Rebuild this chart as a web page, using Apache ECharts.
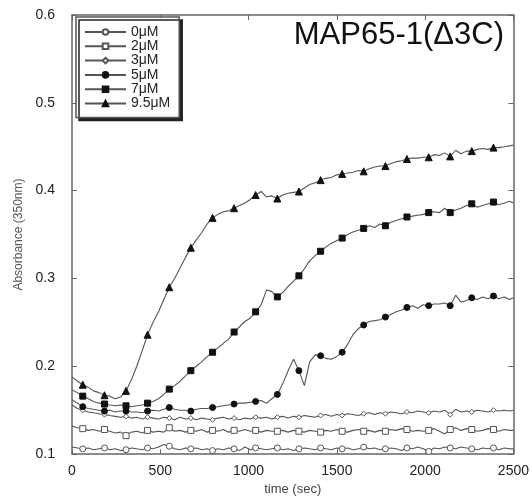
<!DOCTYPE html>
<html>
<head>
<meta charset="utf-8">
<script src="https://cdn.jsdelivr.net/npm/echarts@6/dist/echarts.min.js"></script>
<style>
  html, body { margin: 0; padding: 0; background: #fff; }
  #chart { width: 532px; height: 501px; }
</style>
</head>
<body>
<div id="chart"></div>
<script>
// Sampling times (sec)
const times = [0, 31, 61, 92, 122, 153, 184, 214, 245, 275, 306, 337, 367, 398, 428, 459, 490, 520, 551, 581,
  612, 643, 673, 704, 734, 765, 796, 826, 857, 887, 918, 949, 979, 1010, 1040, 1071, 1102, 1132, 1163, 1193,
  1224, 1255, 1285, 1316, 1346, 1377, 1408, 1438, 1469, 1499, 1530, 1561, 1591, 1622, 1652, 1683, 1714, 1744, 1775, 1805,
  1836, 1867, 1897, 1928, 1958, 1989, 2020, 2050, 2081, 2111, 2142, 2173, 2203, 2234, 2264, 2295, 2326, 2356, 2387, 2417,
  2448, 2478, 2500];

// Absorbance at 350 nm for each MAP65-1(Δ3C) concentration
const abs0 = [0.108, 0.107, 0.106, 0.107, 0.105, 0.106, 0.107, 0.105, 0.106, 0.104, 0.105, 0.107, 0.106, 0.105, 0.107, 0.106, 0.108, 0.111, 0.109, 0.106,
  0.105, 0.107, 0.106, 0.107, 0.105, 0.106, 0.104, 0.106, 0.105, 0.107, 0.106, 0.104, 0.108, 0.105, 0.107, 0.106, 0.105, 0.106, 0.107, 0.105,
  0.106, 0.104, 0.106, 0.107, 0.106, 0.105, 0.107, 0.106, 0.105, 0.107, 0.106, 0.107, 0.105, 0.106, 0.108, 0.106, 0.107, 0.105, 0.106, 0.107,
  0.106, 0.104, 0.107, 0.106, 0.108, 0.106, 0.103, 0.107, 0.106, 0.108, 0.107, 0.106, 0.108, 0.107, 0.106, 0.105, 0.107, 0.106, 0.107, 0.105,
  0.107, 0.106, 0.106];
const abs2 = [0.132, 0.130, 0.129, 0.127, 0.128, 0.126, 0.128, 0.126, 0.124, 0.125, 0.121, 0.125, 0.126, 0.124, 0.127, 0.125, 0.126, 0.125, 0.130, 0.126,
  0.127, 0.125, 0.127, 0.126, 0.128, 0.125, 0.127, 0.126, 0.128, 0.125, 0.127, 0.126, 0.128, 0.126, 0.127, 0.125, 0.127, 0.126, 0.126, 0.127,
  0.125, 0.127, 0.126, 0.125, 0.127, 0.126, 0.125, 0.127, 0.126, 0.128, 0.126, 0.125, 0.127, 0.128, 0.126, 0.127, 0.125, 0.127, 0.126, 0.128,
  0.127, 0.129, 0.128, 0.126, 0.127, 0.126, 0.127, 0.129, 0.126, 0.123, 0.128, 0.130, 0.127, 0.129, 0.128, 0.126, 0.127, 0.129, 0.128, 0.126,
  0.128, 0.127, 0.127];
const abs3 = [0.156, 0.152, 0.150, 0.148, 0.147, 0.146, 0.145, 0.144, 0.143, 0.142, 0.143, 0.141, 0.142, 0.140, 0.142, 0.141, 0.140, 0.142, 0.141, 0.139,
  0.142, 0.140, 0.141, 0.139, 0.141, 0.140, 0.139, 0.141, 0.142, 0.140, 0.141, 0.139, 0.141, 0.140, 0.142, 0.141, 0.142, 0.140, 0.142, 0.143,
  0.141, 0.143, 0.142, 0.144, 0.143, 0.142, 0.144, 0.145, 0.143, 0.145, 0.144, 0.146, 0.145, 0.144, 0.146, 0.147, 0.145, 0.147, 0.146, 0.148,
  0.147, 0.146, 0.148, 0.147, 0.149, 0.148, 0.147, 0.149, 0.148, 0.150, 0.145, 0.151, 0.148, 0.149, 0.148, 0.150, 0.149, 0.148, 0.150, 0.149,
  0.150, 0.149, 0.150];
const abs5 = [0.162, 0.158, 0.154, 0.152, 0.151, 0.150, 0.149, 0.150, 0.148, 0.149, 0.149, 0.148, 0.148, 0.147, 0.149, 0.150, 0.149, 0.151, 0.153, 0.151,
  0.150, 0.150, 0.149, 0.151, 0.152, 0.152, 0.153, 0.154, 0.155, 0.156, 0.157, 0.158, 0.158, 0.159, 0.160, 0.161, 0.158, 0.163, 0.168, 0.180,
  0.195, 0.208, 0.195, 0.178, 0.205, 0.213, 0.212, 0.209, 0.208, 0.211, 0.216, 0.225, 0.236, 0.243, 0.247, 0.251, 0.252, 0.253, 0.256, 0.259,
  0.262, 0.264, 0.267, 0.269, 0.266, 0.270, 0.269, 0.271, 0.271, 0.272, 0.269, 0.281, 0.273, 0.275, 0.278, 0.276, 0.279, 0.277, 0.280, 0.277,
  0.279, 0.276, 0.278];
const abs7 = [0.173, 0.170, 0.166, 0.163, 0.160, 0.158, 0.157, 0.156, 0.155, 0.156, 0.155, 0.154, 0.155, 0.156, 0.158, 0.160, 0.163, 0.168, 0.174, 0.178,
  0.183, 0.189, 0.195, 0.200, 0.205, 0.211, 0.216, 0.221, 0.226, 0.231, 0.239, 0.245, 0.251, 0.255, 0.262, 0.270, 0.287, 0.285, 0.279, 0.284,
  0.291, 0.297, 0.303, 0.311, 0.320, 0.326, 0.331, 0.336, 0.340, 0.343, 0.346, 0.350, 0.353, 0.355, 0.357, 0.360, 0.358, 0.362, 0.360, 0.364,
  0.366, 0.368, 0.370, 0.371, 0.372, 0.373, 0.375, 0.376, 0.375, 0.380, 0.375, 0.378, 0.380, 0.383, 0.385, 0.381, 0.383, 0.385, 0.387, 0.384,
  0.386, 0.388, 0.386];
const abs95 = [0.188, 0.183, 0.179, 0.176, 0.172, 0.170, 0.167, 0.166, 0.163, 0.165, 0.172, 0.185, 0.200, 0.218, 0.236, 0.250, 0.262, 0.276, 0.290, 0.300,
  0.312, 0.324, 0.335, 0.344, 0.352, 0.362, 0.369, 0.373, 0.376, 0.377, 0.380, 0.383, 0.386, 0.390, 0.395, 0.399, 0.393, 0.394, 0.391, 0.395,
  0.397, 0.398, 0.399, 0.403, 0.407, 0.409, 0.412, 0.414, 0.415, 0.418, 0.419, 0.420, 0.421, 0.423, 0.422, 0.425, 0.427, 0.428, 0.428, 0.431,
  0.433, 0.434, 0.436, 0.437, 0.437, 0.438, 0.438, 0.441, 0.440, 0.443, 0.439, 0.446, 0.442, 0.445, 0.445, 0.447, 0.448, 0.447, 0.449, 0.449,
  0.450, 0.451, 0.452];

const seriesNames = ['0μM', '2μM', '3μM', '5μM', '7μM', '9.5μM'];
const seriesValues = [abs0, abs2, abs3, abs5, abs7, abs95];

// Axis tick labels
const xTicks = ['0', '500', '1000', '1500', '2000', '2500'];
const yTicks = ['0.1', '0.2', '0.3', '0.4', '0.5', '0.6'];

const FONT = '"Liberation Sans", Arial, Helvetica, sans-serif';
const LINE = '#555';

// Marker appearance per concentration
const markerStyles = [
  { symbol: 'circle', size: 6, fill: '#fff' },
  { symbol: 'rect', size: 6, fill: '#fff' },
  { symbol: 'diamond', size: 5, fill: '#fff' },
  { symbol: 'circle', size: 6, fill: '#111' },
  { symbol: 'rect', size: 6, fill: '#111' },
  { symbol: 'triangle', size: 7, fill: '#111' }
];

// A marker sits on every fourth sample
const isMarker = i => i % 4 === 2 && i < 80;

const series = seriesNames.map((name, k) => {
  const st = markerStyles[k];
  const vals = seriesValues[k];
  return {
    name: name,
    type: 'line',
    xAxisIndex: 0,
    yAxisIndex: 0,
    symbol: st.symbol,
    symbolSize: st.size,
    showSymbol: true,
    showAllSymbol: true,
    lineStyle: { color: LINE, width: 1.1 },
    itemStyle: { color: st.fill, borderColor: st.fill === '#fff' ? '#555' : '#111', borderWidth: 1 },
    emphasis: { disabled: true },
    z: 3,
    data: times.map((t, i) => isMarker(i) ? [t, vals[i]] : { value: [t, vals[i]], symbol: 'none' })
  };
});

const axisLine = { show: true, onZero: false, lineStyle: { color: '#666', width: 1.5 } };
const axisTick = { show: true, inside: true, length: 5, lineStyle: { color: '#666', width: 1 } };

const chart = echarts.init(document.getElementById('chart'), null, { renderer: 'canvas' });
chart.setOption({
  animation: false,
  backgroundColor: '#fff',
  title: {
    text: 'MAP65-1(Δ3C)',
    right: 23,
    top: 15,
    textStyle: { fontFamily: FONT, fontSize: 31, fontWeight: 'normal', color: '#111' }
  },
  legend: {
    orient: 'vertical',
    left: 76,
    top: 17,
    padding: [8, 9, 7, 8],
    itemWidth: 41,
    itemHeight: 7,
    itemGap: 0.3,
    backgroundColor: '#fff',
    borderColor: '#555',
    borderWidth: 1.5,
    shadowColor: '#222',
    shadowBlur: 0,
    shadowOffsetX: 3,
    shadowOffsetY: 3,
    selectedMode: false,
    textStyle: { fontFamily: FONT, fontSize: 14, lineHeight: 13, color: '#222' },
    data: seriesNames
  },
  grid: { left: 72, right: 18, top: 15, bottom: 45, containLabel: false },
  xAxis: [
    {
      type: 'value', position: 'bottom', min: 0, max: 2500, interval: 500,
      name: 'time (sec)', nameLocation: 'middle', nameGap: 27,
      nameTextStyle: { fontFamily: FONT, fontSize: 13, color: '#444' },
      axisLine: axisLine, axisTick: axisTick, splitLine: { show: false },
      axisLabel: { fontFamily: FONT, fontSize: 14, color: '#222', margin: 10,
        formatter: (v) => xTicks[Math.round(v / 500)] }
    },
    {
      type: 'value', position: 'top', min: 0, max: 2500, interval: 500,
      axisLine: axisLine, axisTick: axisTick, splitLine: { show: false },
      axisLabel: { show: false }
    }
  ],
  yAxis: [
    {
      type: 'value', position: 'left', min: 0.1, max: 0.6, interval: 0.1,
      name: 'Absorbance (350nm)', nameLocation: 'middle', nameGap: 41,
      nameTextStyle: { fontFamily: FONT, fontSize: 12, color: '#555' },
      axisLine: axisLine, axisTick: axisTick, splitLine: { show: false },
      axisLabel: { fontFamily: FONT, fontSize: 14, color: '#222', margin: 17,
        formatter: (v) => yTicks[Math.round((v - 0.1) * 10)] }
    },
    {
      type: 'value', position: 'right', min: 0.1, max: 0.6, interval: 0.1,
      axisLine: axisLine, axisTick: axisTick, splitLine: { show: false },
      axisLabel: { show: false }
    }
  ],
  series: series
});
</script>
</body>
</html>
